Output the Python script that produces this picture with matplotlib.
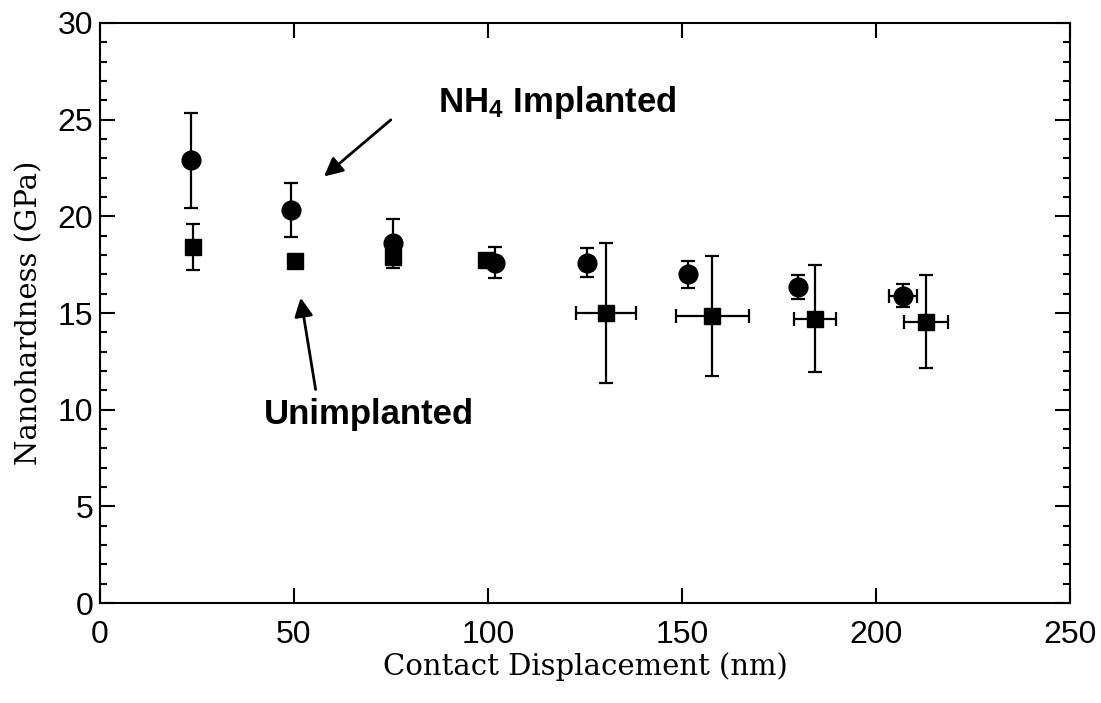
import matplotlib
matplotlib.use("Agg")
import matplotlib.pyplot as plt
from matplotlib.ticker import MultipleLocator

# Datos
implanted_x = [23.5, 49.3, 75.4, 101.9, 125.6, 151.6, 179.8, 206.9]
implanted_y = [22.9, 20.35, 18.6, 17.6, 17.6, 17.0, 16.35, 15.9]
implanted_yerr = [2.45, 1.4, 1.25, 0.8, 0.75, 0.7, 0.63, 0.58]
implanted_xerr = [0, 0, 0, 0, 0, 0, 0, 3.65]

unimpl_x = [24.1, 50.3, 75.4, 99.4, 130.4, 157.8, 184.3, 212.8]
unimpl_y = [18.4, 17.7, 17.9, 17.75, 15.0, 14.85, 14.7, 14.55]
unimpl_yerr = [1.2, 0, 0, 0, 3.63, 3.1, 2.76, 2.41]
unimpl_xerr = [0, 0, 0, 0, 7.65, 9.4, 5.4, 5.7]

plt.rcParams["mathtext.fontset"] = "custom"
plt.rcParams["mathtext.bf"] = "Liberation Sans:bold"

fig = plt.figure(figsize=(11.01, 7.03), dpi=100)
ax = fig.add_axes([0.0908, 0.1422, 0.8810, 0.8251])

ax.errorbar(unimpl_x, unimpl_y, yerr=unimpl_yerr, xerr=unimpl_xerr,
            fmt="s", color="black", markersize=12, elinewidth=1.6,
            capsize=5, capthick=1.6)
ax.errorbar(implanted_x, implanted_y, yerr=implanted_yerr, xerr=implanted_xerr,
            fmt="o", color="black", markersize=13.5, elinewidth=1.6,
            capsize=5, capthick=1.6)

ax.set_xlim(0, 250)
ax.set_ylim(0, 30)
ax.xaxis.set_major_locator(MultipleLocator(50))
ax.yaxis.set_major_locator(MultipleLocator(5))
ax.yaxis.set_minor_locator(MultipleLocator(1))
ax.tick_params(which="both", direction="in", top=True, right=True, width=1.5)
ax.tick_params(which="major", length=11, labelsize=23)
ax.tick_params(axis="x", which="major", pad=12)
ax.tick_params(axis="y", which="major", pad=5)
ax.tick_params(which="minor", length=5)
for lbl in ax.get_xticklabels() + ax.get_yticklabels():
    lbl.set_family("Liberation Sans")
for s in ax.spines.values():
    s.set_linewidth(1.5)

ax.set_xlabel("Contact Displacement (nm)", family="DejaVu Serif", fontsize=21, labelpad=2)
ax.set_ylabel("Nanohardness (GPa)", family="DejaVu Serif", fontsize=21, labelpad=10)

# Anotaciones
ax.text(87, 25.4, r"$\mathbf{NH_4}$ Implanted", family="Liberation Sans",
        fontweight="bold", fontsize=25, ha="left", va="baseline")
ax.annotate("", xy=(57.2, 21.97), xytext=(75.5, 25.08),
            arrowprops=dict(arrowstyle="-|>", color="black", lw=2, mutation_scale=28))
ax.text(69.2, 9.73, "Unimplanted", family="Liberation Sans",
        fontweight="bold", fontsize=25, ha="center", va="center")
ax.annotate("", xy=(51.6, 15.93), xytext=(55.7, 10.9),
            arrowprops=dict(arrowstyle="-|>", color="black", lw=2, mutation_scale=28))

fig.savefig("out.png", dpi=100)
